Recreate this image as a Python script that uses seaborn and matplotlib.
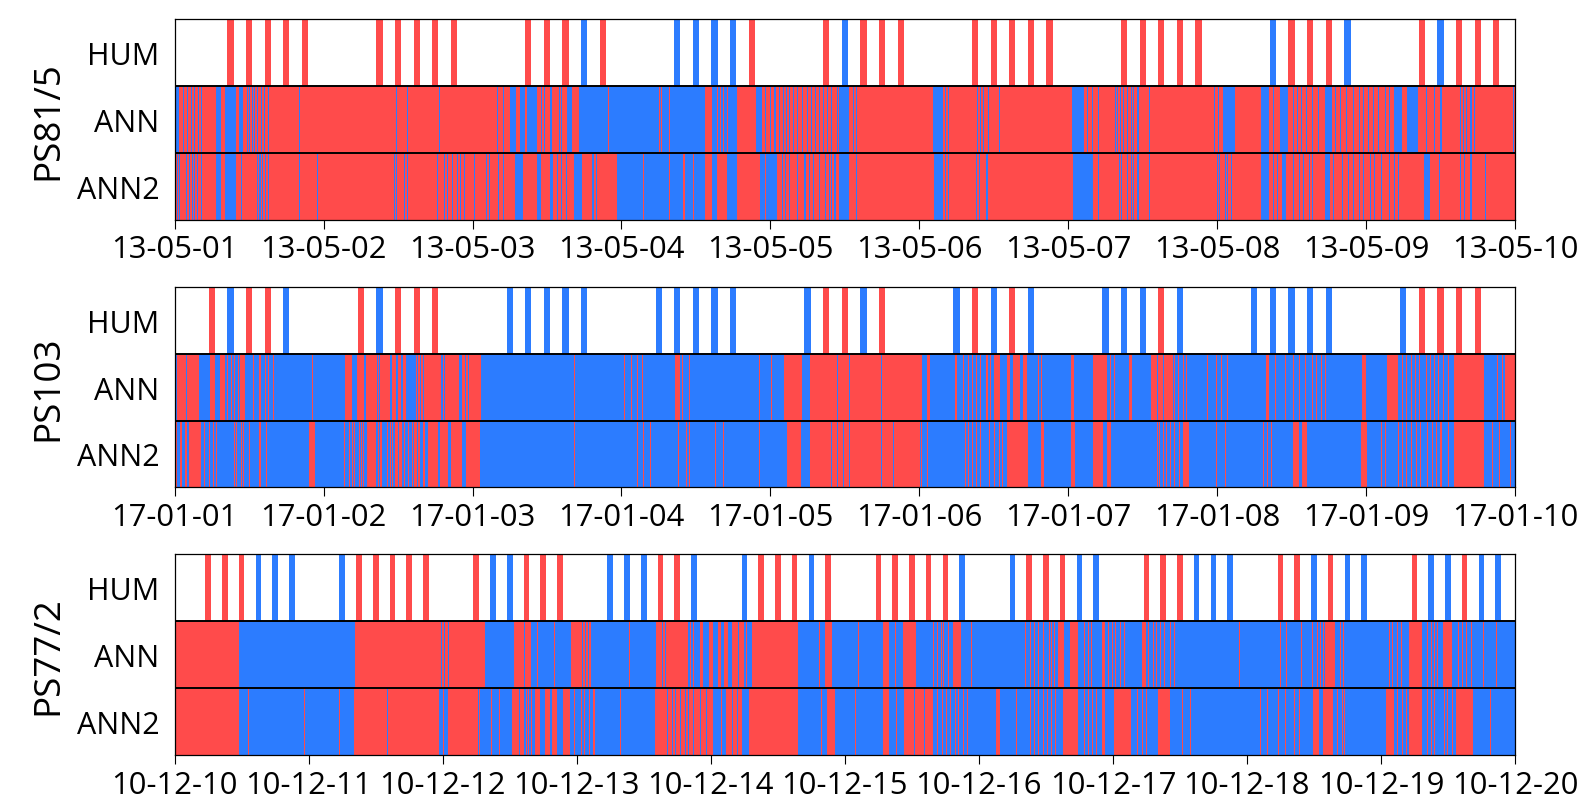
import numpy as np
import matplotlib
matplotlib.use("Agg")
import matplotlib.pyplot as plt
from matplotlib.colors import ListedColormap
import seaborn as sns

# ---------------- data (positions in days from the first tick) ----------------
ROWS = ["HUM", "ANN", "ANN2"]

# Panel 1 : PS81/5
p1_name = "PS81/5"
p1_ticks = ["13-05-01", "13-05-02", "13-05-03", "13-05-04", "13-05-05",
            "13-05-06", "13-05-07", "13-05-08", "13-05-09", "13-05-10"]
p1_hum_hours = [9, 12, 15, 18, 21]
p1_hum = ["RRRRR", "RRRRR", "RRRBR", "BBBBR", "RBRRR",
          "RRRRR", "RRRRR", "BRRRB", "RBRRR"]
p1_ann_base = "R"
p1_ann_blocks = [[0.006, 0.029], [0.281, 0.310], [0.338, 0.407], [0.430, 0.459],
                 [2.251, 2.289], [2.320, 2.354], [2.365, 2.432], [2.522, 2.533],
                 [2.634, 2.668], [2.713, 3.563], [3.608, 3.776], [3.900, 3.943],
                 [4.46, 4.53], [5.09, 5.159], [6.026, 6.107], [7.040, 7.118],
                 [7.292, 7.344], [7.422, 7.480], [7.725, 7.769], [8.188, 8.246],
                 [8.275, 8.347]]
p1_ann_lines = [0.057, 0.086, 0.115, 0.138, 0.161, 0.178, 0.488, 0.505, 0.522,
                0.539, 0.556, 0.579, 0.602, 0.625, 0.837, 1.491, 1.566, 1.778,
                2.168, 2.202, 2.46, 2.48, 2.59, 2.60,
                3.972, 4.001, 4.030, 4.058, 4.087, 4.107, 4.130,
                4.158, 4.187, 4.216, 4.244, 4.273, 4.302, 4.330, 4.359, 4.388,
                4.416, 4.445, 4.561, 4.581, 5.176, 5.197, 5.390, 5.413, 5.434,
                5.465, 5.535, 6.127, 6.165, 6.208, 6.315, 6.332, 6.353, 6.373,
                6.396, 6.425, 6.439, 6.468, 6.546, 6.983, 7.009, 7.379, 7.509,
                7.538, 7.566, 7.604, 7.639, 7.682, 7.798, 7.827, 7.870, 7.913,
                7.957, 7.986, 8.014, 8.049, 8.087, 8.130, 8.159, 8.405, 8.462,
                8.506, 8.636, 8.656, 8.679, 8.708, 8.728, 8.990]
p1_ann_gaps = [2.914, 3.255, 3.265, 3.32, 3.642, 3.664, 3.686, 3.709]
p1_ann2_base = "R"
p1_ann2_blocks = [[0.281, 0.310], [0.338, 0.407], [2.288, 2.343], [2.432, 2.455],
                  [2.522, 2.544], [2.679, 2.735], [2.970, 3.563], [3.608, 3.642],
                  [3.709, 3.776], [3.933, 4.044], [4.46, 4.53], [5.095, 5.159],
                  [6.035, 6.165], [7.292, 7.344], [7.436, 7.465], [7.725, 7.760],
                  [8.390, 8.434]]
p1_ann2_lines = [0.014, 0.034, 0.077, 0.100, 0.120, 0.138, 0.158, 0.178, 0.445,
                 0.559, 0.574, 0.588, 0.608, 0.625, 0.837, 0.961, 1.474, 1.491,
                 1.543, 1.563, 1.764, 1.807, 1.830, 1.864, 1.899, 1.921, 1.950,
                 2.007, 2.094, 2.116, 2.180, 2.208, 2.57, 2.60, 2.63, 2.81, 2.83,
                 4.078, 4.101, 4.130, 4.187, 4.230,
                 4.259, 4.287, 4.330, 4.373, 4.402, 4.410, 4.431, 4.581, 5.176,
                 5.197, 5.384, 5.405, 5.457, 6.208, 6.344, 6.361, 6.396, 6.425,
                 6.439, 6.468, 6.546, 7.003, 7.017, 7.061, 7.075, 7.095, 7.379,
                 7.408, 7.509, 7.552, 7.581, 7.624, 7.645, 7.783, 7.841, 7.884,
                 7.913, 7.957, 7.986, 8.029, 8.058, 8.101, 8.159, 8.188, 8.217,
                 8.497, 8.636, 8.665, 8.708, 8.801]
p1_ann2_gaps = [3.149, 3.32, 3.42, 3.48, 3.97]

# Panel 2 : PS103
p2_name = "PS103"
p2_ticks = ["17-01-01", "17-01-02", "17-01-03", "17-01-04", "17-01-05",
            "17-01-06", "17-01-07", "17-01-08", "17-01-09", "17-01-10"]
p2_hum_hours = [6, 9, 12, 15, 18]
p2_hum = ["RBRRB", "RBRRR", "BBBBB", "BBBBB", "BRRBR",
          "BRBRB", "BBBRB", "BBBBB", "BRRRR"]
p2_ann_base = "B"
p2_ann_blocks = [[0.014, 0.166], [0.238, 0.272], [0.304, 0.338], [0.436, 0.473],
                 [1.145, 1.190], [1.225, 1.268], [1.286, 1.447], [1.458, 1.488],
                 [1.503, 1.522], [1.532, 1.555], [1.615, 1.913], [1.929, 1.951],
                 [1.960, 1.975], [1.980, 2.056], [3.364, 3.398], [4.092, 4.216],
                 [4.267, 5.023], [5.052, 5.072], [5.500, 5.543], [5.587, 5.610],
                 [5.630, 5.673], [5.694, 5.725], [6.020, 6.043], [6.165, 6.266],
                 [6.410, 6.433], [6.555, 6.699], [7.327, 7.350], [7.971, 8.000],
                 [8.136, 8.217], [8.587, 8.795], [8.93, 9.0]]
p2_ann_lines = [0.358, 0.379, 0.401, 0.424, 0.531, 0.574, 0.608, 0.631, 0.660,
                0.926, 2.684, 3.017, 3.068, 3.111, 3.140, 3.413,
                3.456, 3.929, 4.009, 5.249, 5.298, 5.327, 5.361, 5.384, 5.413,
                5.457, 5.477, 5.803, 5.824, 6.280, 6.309, 6.714, 6.743, 6.772,
                6.795, 6.931, 6.997, 7.032, 7.075, 7.393, 7.465, 7.509, 7.552,
                7.595, 7.639, 7.668, 7.697, 7.725, 8.246, 8.275, 8.304, 8.332,
                8.361, 8.405, 8.434, 8.462, 8.491, 8.520, 8.549, 8.882, 8.910]
p2_ann_gaps = [0.080, 1.365, 1.378, 1.627, 1.649, 1.667, 1.797, 1.811,
               4.230, 4.250, 4.445, 4.532, 4.749, 6.600, 6.645]
p2_ann2_base = "B"
p2_ann2_blocks = [[0.006, 0.014], [0.034, 0.052], [0.072, 0.086], [0.100, 0.172],
                  [0.903, 0.941], [1.291, 1.353], [1.481, 1.526], [1.604, 1.622],
                  [1.631, 1.644], [1.667, 1.682], [1.698, 1.771], [1.783, 1.832],
                  [1.854, 1.929], [1.958, 2.047], [4.109, 4.210],
                  [4.267, 5.009], [5.587, 5.731], [5.818, 5.841], [6.020, 6.049],
                  [6.165, 6.237], [6.266, 6.286], [6.772, 6.815], [7.509, 7.552],
                  [7.566, 7.604], [7.962, 8.009], [8.587, 8.795]]
p2_ann2_lines = [0.195, 0.235, 0.258, 0.281, 0.401, 0.416, 0.445, 0.465, 0.502,
                 0.574, 0.617, 1.145, 1.174, 1.190, 1.205, 1.241, 1.250, 1.268,
                 1.369, 1.385, 1.425, 1.447, 1.465, 1.548, 1.570, 1.593,
                 2.684, 3.111,
                 3.149, 3.198, 3.384, 3.436, 3.456, 3.628, 3.685, 3.929, 5.014,
                 5.052, 5.312, 5.332, 5.355, 5.384, 5.413, 5.471, 5.500, 5.535,
                 5.558, 6.598, 6.618, 6.642, 6.665, 6.685, 6.714, 6.749, 6.994,
                 7.061, 7.306, 7.335, 7.364, 8.101, 8.130, 8.217, 8.246, 8.275,
                 8.304, 8.338, 8.367, 8.413, 8.448, 8.477, 8.506, 8.549, 8.853,
                 8.896, 8.970]
p2_ann2_gaps = [1.50, 1.94, 4.416, 4.445, 4.489, 4.532, 4.749, 4.829]

# Panel 3 : PS77/2
p3_name = "PS77/2"
p3_ticks = ["10-12-10", "10-12-11", "10-12-12", "10-12-13", "10-12-14", "10-12-15",
            "10-12-16", "10-12-17", "10-12-18", "10-12-19", "10-12-20"]
p3_hum_hours = [6, 9, 12, 15, 18, 21]
p3_hum = ["RRRBBB", "BRRRRR", "RBBRRR", "BBBRRB", "BRRRBR",
          "RRRRRB", "BRRRBB", "RRRBBB", "RRBRBB", "RBBRBB"]
p3_ann_base = "B"
p3_ann_blocks = [[0.0, 0.478], [1.344, 2.310], [2.532, 2.662], [2.956, 3.106],
                 [3.593, 3.823], [3.918, 3.943], [3.987, 4.014], [4.055, 4.078],
                 [4.097, 4.126], [4.157, 4.253], [4.307, 4.651], [4.852, 4.906],
                 [5.283, 5.334], [5.437, 5.533], [5.806, 5.870], [6.592, 6.640],
                 [6.682, 6.737], [6.920, 6.945], [7.212, 7.250], [8.583, 8.663],
                 [9.209, 9.305], [9.465, 9.530]]
p3_ann_lines = [2.706, 2.835, 3.393, 3.850, 3.870, 4.269, 4.810, 5.100, 5.379, 5.636,
                5.661, 5.693, 5.719, 5.742, 5.774, 5.950, 6.352, 6.384, 6.416,
                6.448, 6.480, 6.522, 6.544, 6.567, 6.785, 6.817, 6.843, 6.971,
                6.994, 7.016, 7.035, 7.061, 7.090, 7.270, 7.299, 7.324, 7.356,
                7.388, 7.427, 7.459, 7.947, 8.255, 8.294, 8.406, 8.493, 8.525,
                8.551, 8.576, 8.695, 8.718, 9.064, 9.090, 9.122, 9.154, 9.353,
                9.379, 9.401, 9.417, 9.443, 9.578, 9.610, 9.636, 9.674, 9.770,
                9.867]
p3_ann_gaps = [1.991, 2.013, 2.045, 2.606, 2.630, 3.042, 3.065, 3.084,
               3.640, 3.660, 4.205, 4.236]
p3_ann2_base = "B"
p3_ann2_blocks = [[0.0, 0.478], [0.516, 0.522], [0.548, 0.555], [1.338, 1.975],
                  [2.045, 2.262], [2.517, 2.607], [2.657, 2.667], [2.687, 2.724],
                  [2.761, 2.799], [2.811, 2.856], [2.898, 2.948],
                  [3.584, 4.014], [4.110, 4.237], [4.285, 4.651],
                  [4.868, 4.923], [5.283, 5.334], [5.443, 5.661], [6.127, 6.159],
                  [6.624, 6.737], [6.920, 6.945], [7.010, 7.138], [7.331, 7.427],
                  [8.493, 8.535], [8.567, 8.647], [9.032, 9.096], [9.209, 9.305],
                  [9.562, 9.690]]
p3_ann2_lines = [0.972, 1.236, 2.000, 2.276, 2.326, 2.363, 2.418, 2.624, 2.642,
                 2.985, 3.022, 3.040, 3.060, 3.097, 3.122, 3.134,
                 3.320, 4.078, 4.826, 5.083, 5.388, 5.693,
                 5.725, 5.758, 5.790, 5.822, 5.854, 5.886, 5.912, 6.278, 6.384,
                 6.416, 6.448, 6.480, 6.512, 6.544, 6.576, 6.785, 6.817, 6.849,
                 6.881, 7.186, 7.218, 7.250, 7.517, 7.581, 8.101, 8.159, 8.230,
                 8.287, 8.358, 8.390, 8.438, 8.679, 8.711, 8.727, 9.122, 9.160,
                 9.193, 9.353, 9.379, 9.401, 9.443, 9.475, 9.497, 9.530, 9.819]
p3_ann2_gaps = [0.006, 1.586, 2.57, 3.680, 3.712, 3.743, 3.775,
                3.807, 3.839, 3.871, 3.918, 3.966, 4.160, 4.200, 5.517, 5.591]

# ---------------- styling ----------------
RED = "#ff4b4b"
BLUE = "#2c7cff"
CODE = {"R": 0.0, "B": 1.0}
BPD = 144  # 10-minute bins per day

sns.set_theme(style="white")
plt.rcParams["font.family"] = ["Open Sans", "DejaVu Sans"]


def ann_row(n_days, base, blocks, lines, gaps):
    n = n_days * BPD
    b = CODE[base]
    arr = np.full(n, b)
    for s, e in blocks:
        i0 = min(int(round(s * BPD)), n - 1)
        i1 = max(i0 + 1, min(int(round(e * BPD)), n))
        arr[i0:i1] = 1 - b
    for p in lines:
        arr[min(int(p * BPD), n - 1)] = 1 - b
    for p in gaps:
        arr[min(int(p * BPD), n - 1)] = b
    return arr


def hum_row(n_days, hours, codes):
    n = n_days * BPD
    arr = np.full(n, np.nan)
    for d, day_codes in enumerate(codes):
        for h, c in zip(hours, day_codes):
            i0 = int(round((d + h / 24.0) * BPD)) - 3
            arr[max(i0, 0):min(i0 + 6, n)] = CODE[c]
    return arr


panels = [
    (p1_name, p1_ticks, p1_hum_hours, p1_hum,
     (p1_ann_base, p1_ann_blocks, p1_ann_lines, p1_ann_gaps),
     (p1_ann2_base, p1_ann2_blocks, p1_ann2_lines, p1_ann2_gaps)),
    (p2_name, p2_ticks, p2_hum_hours, p2_hum,
     (p2_ann_base, p2_ann_blocks, p2_ann_lines, p2_ann_gaps),
     (p2_ann2_base, p2_ann2_blocks, p2_ann2_lines, p2_ann2_gaps)),
    (p3_name, p3_ticks, p3_hum_hours, p3_hum,
     (p3_ann_base, p3_ann_blocks, p3_ann_lines, p3_ann_gaps),
     (p3_ann2_base, p3_ann2_blocks, p3_ann2_lines, p3_ann2_gaps)),
]

fig = plt.figure(figsize=(15.88, 8.03), dpi=100)
boxes = [[0.110, 0.725, 0.844, 0.250],
         [0.110, 0.392, 0.844, 0.249],
         [0.110, 0.0585, 0.844, 0.2505]]
cmap = ListedColormap([RED, BLUE])

for (name, ticks, hours, hum, ann, ann2), box in zip(panels, boxes):
    n_days = len(ticks) - 1
    mat = np.vstack([hum_row(n_days, hours, hum),
                     ann_row(n_days, *ann),
                     ann_row(n_days, *ann2)])
    ax = fig.add_axes(box)
    sns.heatmap(mat, ax=ax, cmap=cmap, vmin=0, vmax=1, cbar=False,
                xticklabels=False, yticklabels=False)
    ax.set_facecolor("white")
    ax.axhline(1, color="black", lw=1.4)
    ax.axhline(2, color="black", lw=1.4)
    for sp in ax.spines.values():
        sp.set_visible(True)
        sp.set_color("black")
        sp.set_linewidth(0.9)
    ax.set_xticks(np.arange(n_days + 1) * BPD)
    ax.set_xticklabels(ticks, rotation=0, fontsize=22.3)
    ax.set_yticks([0.5, 1.5, 2.5])
    ax.set_yticklabels(ROWS, rotation=0, fontsize=22)
    ax.tick_params(axis="x", bottom=True, length=6.5, width=0.8,
                   color="black", pad=4, labelcolor="black")
    ax.tick_params(axis="y", left=False, length=0, pad=11, labelcolor="black")
    ax.set_xlabel("")
    ax.set_ylabel(name, fontsize=26.5, color="black", va="center")
    ax.yaxis.set_label_coords(-0.0944, 0.5)

fig.savefig("out.png", dpi=100)
